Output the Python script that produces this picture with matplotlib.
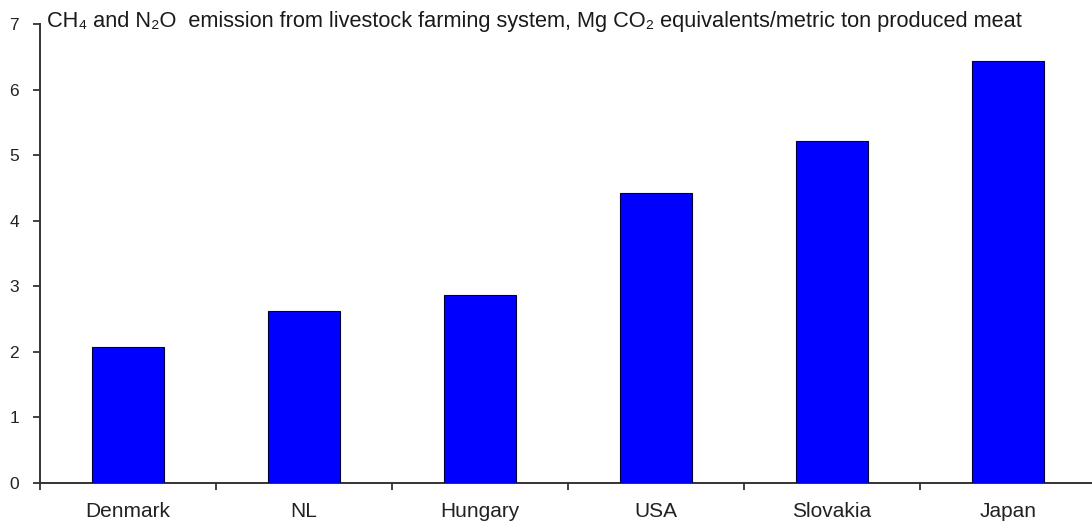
import matplotlib
matplotlib.use("Agg")
import matplotlib.pyplot as plt
import numpy as np

plt.rcParams['font.family'] = ['Liberation Sans', 'DejaVu Sans']

# data
countries = ["Denmark", "NL", "Hungary", "USA", "Slovakia", "Japan"]
emissions = [2.07, 2.62, 2.86, 4.43, 5.22, 6.44]
y_ticks = [0, 1, 2, 3, 4, 5, 6, 7]

W, H = 1092, 523
fig = plt.figure(figsize=(W / 100, H / 100), dpi=100)
ax = fig.add_axes([40 / W, 40 / H, 1056 / W, 459 / H])

x = np.arange(len(countries))
ax.bar(x, emissions, width=0.41, color="#0000ff", edgecolor="#000033", linewidth=0.8, zorder=3)

ax.set_xlim(-0.5, len(countries) - 0.5)
ax.set_ylim(0, 7)
ax.set_yticks(y_ticks)
ax.set_yticklabels([str(t) for t in y_ticks], fontsize=12.5, color="#222222")

# category labels centred, tick marks between categories
ax.set_xticks(np.arange(-0.5, len(countries) + 0.5, 1))
ax.set_xticklabels([])
ax.set_xticks(x, minor=True)
ax.set_xticklabels(countries, minor=True, fontsize=15, color="#222222")
ax.tick_params(axis="x", which="minor", length=0, pad=14)
ax.tick_params(axis="x", which="major", length=5, width=1.3, color="#333333", direction="out")
ax.tick_params(axis="y", length=5, width=1.3, color="#333333", direction="out", pad=10)

for s in ["top", "right"]:
    ax.spines[s].set_visible(False)
for s in ["left", "bottom"]:
    ax.spines[s].set_linewidth(1.4)
    ax.spines[s].set_color("#333333")

fig.text(47 / W, 1 - 21 / H,
         "CH\u2084 and N\u2082O  emission from livestock farming system, Mg CO\u2082 equivalents/metric ton produced meat",
         fontsize=15.7, va="center", ha="left", color="#1a1a1a")

fig.savefig("out.png", dpi=100)
